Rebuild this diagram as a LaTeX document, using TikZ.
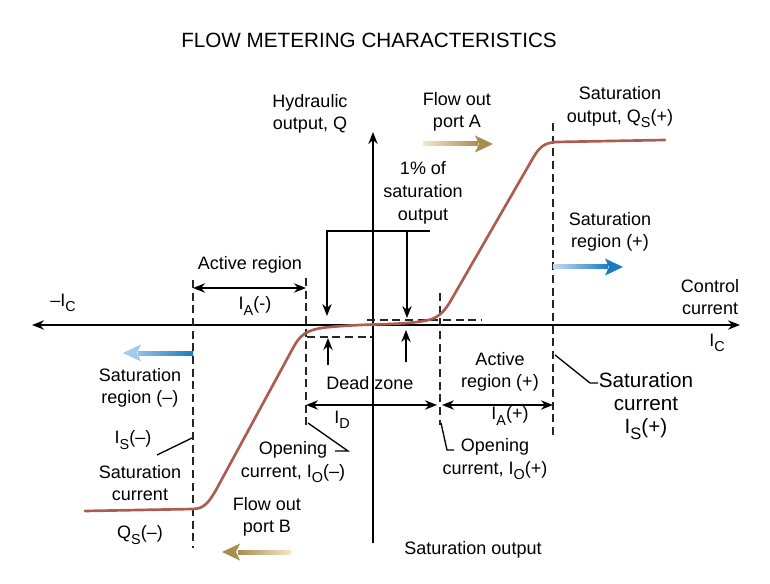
\documentclass[tikz,border=0pt]{standalone}
\usepackage{fontspec}
\setmainfont{Liberation Sans}
\usepackage{xcolor}
\usetikzlibrary{arrows.meta,calc}
\definecolor{curvebrown}{HTML}{AC5C50}
\definecolor{golddark}{HTML}{A88E4E}
\definecolor{goldlight}{HTML}{F8E6CE}
\definecolor{bluedark}{HTML}{1A7BC3}
\definecolor{bluelight}{HTML}{C8DCF1}
\newcommand{\lowsub}[1]{\raisebox{-0.55ex}{\scalebox{0.8}{#1}}}

\begin{document}
\begin{tikzpicture}[x=0.75pt,y=-0.75pt,
  lbl/.style={align=center,font=\fontsize{13.5}{17}\selectfont,inner sep=0pt},
  biglbl/.style={align=center,font=\fontsize{15.5}{17.5}\selectfont,inner sep=0pt},
  axis/.style={line width=1.3pt,-{Stealth[length=9pt,width=7pt]}},
  pointer/.style={line width=1.1pt,-{Stealth[length=9pt,width=7pt]}},
  span/.style={line width=1.1pt,{Stealth[length=9pt,width=7pt]}-{Stealth[length=9pt,width=7pt]}},
  guide/.style={line width=1.2pt,black!85,dash pattern=on 6pt off 3.5pt},
  leader/.style={line width=1pt}]

\useasboundingbox (0,0) rectangle (770,584);

\node[biglbl] (title) at (369,40) {FLOW METERING CHARACTERISTICS};

\coordinate (xl) at (32,325);
\coordinate (xr) at (740,325);
\coordinate (yt) at (373,132);
\coordinate (yb) at (373,543);
\draw[axis] (yb) -- (yt);
\draw[axis] (yt |- xl) -- (xl);
\draw[axis] (yt |- xl) -- (xr);

\coordinate (sn1) at (193,280);
\coordinate (sn2) at (193,548);
\coordinate (on1) at (306,278);
\coordinate (on2) at (306,425);
\coordinate (op1) at (440,293);
\coordinate (op2) at (440,425);
\coordinate (sp1) at (553,123);
\coordinate (sp2) at (553,437);
\coordinate (hu1) at (367,320);
\coordinate (hu2) at (482,320);
\coordinate (hl1) at (307,337);
\coordinate (hl2) at (372,337);
\draw[guide] (sn1) -- (sn2);
\draw[guide] (on1) -- (on2);
\draw[guide] (op1) -- (op2);
\draw[guide] (sp1) -- (sp2);
\draw[guide] (hu1) -- (hu2);
\draw[guide] (hl1) -- (hl2);

\draw[curvebrown,line width=2pt,line cap=round]
  (85,511) -- (193,509) .. controls (205,509) and (210,500) .. (216,490)
  -- (293,348) .. controls (300,335) and (306,330) .. (325,327.5)
  .. controls (345,325.5) and (360,325) .. (373,324.5)
  .. controls (395,324) and (420,323) .. (432,319)
  .. controls (440,316) and (445,310) .. (450,302)
  -- (533,158) .. controls (540,146) and (545,143) .. (556,142) -- (665,140);

\coordinate (br1) at (327,231);
\coordinate (br2) at (430,231);
\coordinate (br3) at (407,231);
\draw[pointer] (br2) -| ($(br1)+(0,85)$);
\draw[pointer] (br3) -- ++(0,87);
\draw[pointer] (328,365) -- (328,338);
\draw[pointer] (406,362) -- (406,330);

\draw[span] ($(sn1)+(0,8)$) -- ($(on1)+(0,10)$);
\draw[span] (on1 |- 0,405) -- ($(op1 |- 0,405)+(-3,0)$);
\draw[span] ($(op1 |- 0,405)+(2,0)$) -- (sp1 |- 0,405);

\draw[leader] (308,423) -- (348,451) -- (335,451);
\draw[leader] (441,423) -- (447,450) -- (454,450);
\draw[leader] (555,355) -- (590,383) -- (598,383);
\draw[leader] (157,455) -- (192,438);

\shade[left color=goldlight,right color=golddark] (423,142) rectangle (478,146);
\fill[golddark] (475,135.5) -- (493,144) -- (475,152.5) -- (479,144) -- cycle;
\shade[left color=golddark,right color=goldlight] (238,550) rectangle (291,554);
\fill[golddark] (240,543.5) -- (222,552) -- (240,560.5) -- (236,552) -- cycle;
\shade[left color=bluelight,right color=bluedark] (553,265) rectangle (608,269);
\fill[bluedark] (605,258.5) -- (623,267) -- (605,275.5) -- (609,267) -- cycle;
\shade[left color=bluelight!70!bluedark,right color=bluedark] (138,351) rectangle (193,355);
\fill[bluelight!80!bluedark] (141,344.5) -- (123,353) -- (141,361.5) -- (137,353) -- cycle;

\node[lbl] (hydr) at (310,114) {Hydraulic\\output, Q};
\node[lbl] (porta) at (457,112) {Flow out\\port A};
\node[lbl] (satoutp) at (620,107) {Saturation\\output, Q\lowsub{S}(+)};
\node[lbl] (onepct) at (423,193) {1\% of\\saturation\\output};
\node[lbl] (satregp) at (610,232) {Saturation\\region (+)};
\node[lbl] (ctrl) at (710,297) {Control\\current};
\node[lbl] (actneg) at (250,265) {Active region};
\node[lbl] (ianeg) at (255,306) {I\lowsub{A}(-)};
\node[lbl] (icneg) at (63,303) {\textendash I\lowsub{C}};
\node[lbl] (icpos) at (717,343) {I\lowsub{C}};
\node[lbl] (satregn) at (140,388) {Saturation\\region (\textendash)};
\node[lbl] (dead) at (370,383) {Dead zone};
\node[lbl] (idz) at (342,420) {I\lowsub{D}};
\node[lbl] (actpos) at (500,372) {Active\\region (+)};
\node[lbl] (iapos) at (510,416) {I\lowsub{A}(+)};
\node[lbl] (openp) at (495,459) {Opening\\current, I\lowsub{O}(+)};
\node[lbl] (openn) at (293,462) {Opening\\current, I\lowsub{O}(\textendash)};
\node[biglbl] (satcurp) at (646,406) {Saturation\\current\\I\lowsub{S}(+)};
\node[lbl] (isneg) at (133,440) {I\lowsub{S}(\textendash)};
\node[lbl] (satcurn) at (140,483) {Saturation\\current};
\node[lbl] (qsneg) at (140,535) {Q\lowsub{S}(\textendash)};
\node[lbl] (portb) at (267,517) {Flow out\\port B};
\node[lbl] (satoutb) at (473,550) {Saturation output};

\end{tikzpicture}
\end{document}
